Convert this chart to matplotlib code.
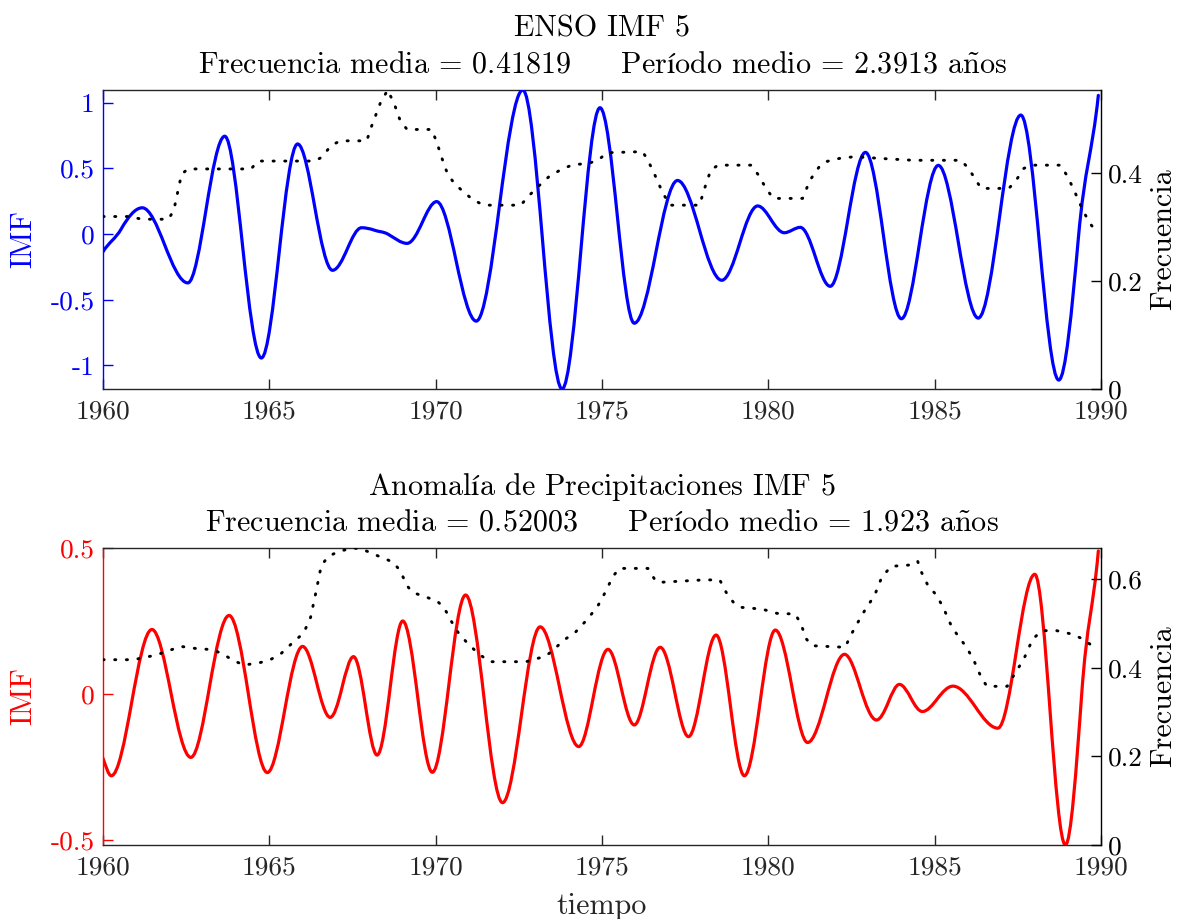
import numpy as np
import matplotlib
matplotlib.use("Agg")
import matplotlib.pyplot as plt
from matplotlib.path import Path
from matplotlib.patches import PathPatch

plt.rcParams['font.family'] = ['cmr10', 'DejaVu Serif']
plt.rcParams['mathtext.fontset'] = 'cm'
plt.rcParams['axes.unicode_minus'] = False
plt.rcParams['axes.formatter.use_mathtext'] = True

# ---------------- data ----------------
# ENSO IMF 5 (key points: extrema and mid-crossings)
enso_t = [1960.00, 1960.55, 1961.18, 1961.85, 1962.55, 1963.10, 1963.66, 1964.20, 1964.76,
          1965.30, 1965.85, 1966.37, 1966.90, 1967.35, 1967.77, 1968.15, 1968.56, 1969.14,
          1969.60, 1970.03, 1970.62, 1971.22, 1971.92, 1972.62, 1973.21, 1973.80, 1974.37,
          1974.94, 1975.46, 1975.97, 1976.62, 1977.27, 1977.93, 1978.60, 1979.14, 1979.68,
          1980.08, 1980.48, 1980.96, 1981.41, 1981.86, 1982.39, 1982.92, 1983.46, 1984.00,
          1984.55, 1985.11, 1985.71, 1986.31, 1986.95, 1987.59, 1988.16, 1988.73, 1989.32,
          1989.92]
enso_imf = [-0.135, 0.04, 0.20, -0.08, -0.372, 0.19, 0.745, -0.10, -0.944,
            -0.13, 0.686, 0.20, -0.276, -0.11, 0.048, 0.03, 0.0, -0.071,
            0.09, 0.247, -0.21, -0.663, 0.22, 1.097, -0.04, -1.18, -0.11,
            0.962, 0.14, -0.679, -0.14, 0.408, 0.03, -0.352, -0.07, 0.214,
            0.11, 0.01, 0.051, -0.17, -0.398, 0.11, 0.622, -0.01, -0.645,
            -0.06, 0.523, -0.06, -0.640, 0.13, 0.906, -0.10, -1.112, -0.03,
            1.056]

# ENSO instantaneous frequency
enso_ft = [1960.00, 1960.76, 1961.18, 1961.97, 1962.13, 1962.36, 1962.55, 1964.45, 1964.66,
           1966.35, 1966.56, 1966.87, 1967.14, 1967.93, 1968.03, 1968.35, 1968.56, 1968.77,
           1968.93, 1969.14, 1969.88, 1970.03, 1970.19, 1970.35, 1970.56, 1970.83, 1971.14,
           1971.46, 1972.56, 1972.78, 1973.09, 1973.41, 1973.83, 1974.15, 1974.57, 1974.88,
           1975.15, 1976.22, 1976.38, 1976.61, 1976.83, 1977.05, 1977.93, 1978.10, 1978.27,
           1978.49, 1979.48, 1979.70, 1979.93, 1980.15, 1981.03, 1981.25, 1981.53, 1981.70,
           1982.14, 1982.58, 1983.36, 1984.35, 1985.79, 1986.02, 1986.24, 1986.40, 1987.23,
           1987.45, 1987.68, 1987.90, 1988.78, 1989.00, 1989.23, 1989.45, 1989.67, 1989.84]
enso_f = [0.319, 0.319, 0.314, 0.314, 0.331, 0.397, 0.407, 0.407, 0.4216,
          0.4216, 0.428, 0.451, 0.459, 0.459, 0.479, 0.531, 0.553, 0.525,
          0.497, 0.480, 0.480, 0.457, 0.4265, 0.399, 0.380, 0.365, 0.349,
          0.340, 0.340, 0.356, 0.375, 0.393, 0.408, 0.415, 0.417, 0.423,
          0.437, 0.439, 0.423, 0.393, 0.362, 0.340, 0.340, 0.374, 0.405,
          0.414, 0.414, 0.396, 0.371, 0.3525, 0.3525, 0.386, 0.411, 0.420,
          0.4265, 0.4296, 0.4265, 0.423, 0.423, 0.408, 0.386, 0.371, 0.371,
          0.386, 0.408, 0.414, 0.414, 0.3926, 0.362, 0.331, 0.306, 0.293]

# Precipitation anomaly IMF 5
prec_t = [1960.00, 1960.25, 1960.86, 1961.47, 1962.05, 1962.64, 1963.21, 1963.79, 1964.37,
          1964.94, 1965.47, 1966.00, 1966.42, 1966.83, 1967.18, 1967.53, 1967.89, 1968.24,
          1968.63, 1969.01, 1969.46, 1969.90, 1970.40, 1970.90, 1971.46, 1972.01, 1972.58,
          1973.14, 1973.72, 1974.30, 1974.74, 1975.18, 1975.58, 1975.97, 1976.36, 1976.75,
          1977.18, 1977.60, 1978.02, 1978.43, 1978.86, 1979.28, 1979.75, 1980.21, 1980.70,
          1981.18, 1981.74, 1982.29, 1982.77, 1983.25, 1983.60, 1983.94, 1984.29, 1984.63,
          1985.09, 1985.55, 1986.23, 1986.90, 1987.46, 1988.01, 1988.47, 1988.93, 1989.42,
          1989.92]
prec_imf = [-0.22, -0.28, -0.03, 0.221, 0.00, -0.217, 0.03, 0.269, 0.00,
            -0.269, -0.05, 0.163, 0.04, -0.080, 0.02, 0.128, -0.04, -0.209,
            0.02, 0.250, -0.01, -0.268, 0.035, 0.339, -0.02, -0.372, -0.07,
            0.230, 0.025, -0.180, -0.01, 0.153, 0.02, -0.106, 0.03, 0.160,
            0.01, -0.146, 0.03, 0.202, -0.04, -0.280, -0.03, 0.219, 0.03,
            -0.166, -0.015, 0.136, 0.02, -0.089, -0.03, 0.033, -0.015, -0.060,
            -0.015, 0.027, -0.045, -0.117, 0.15, 0.410, -0.06, -0.517, 0.0,
            0.49]

# Precipitation instantaneous frequency
prec_ft = [1960.00, 1960.92, 1961.60, 1962.34, 1962.76, 1963.29, 1963.60, 1963.92, 1964.24,
           1964.66, 1964.98, 1965.34, 1965.71, 1966.03, 1966.24, 1966.40, 1966.56, 1966.77,
           1967.08, 1967.50, 1967.77, 1968.24, 1968.72, 1968.93, 1969.14, 1969.30, 1969.72,
           1970.03, 1970.25, 1970.46, 1970.67, 1970.98, 1971.30, 1971.62, 1972.72, 1972.99,
           1973.30, 1973.57, 1973.83, 1974.20, 1974.57, 1974.88, 1975.15, 1975.31, 1975.52,
           1976.38, 1976.61, 1976.72, 1978.04, 1978.54, 1978.76, 1978.99, 1979.21, 1979.82,
           1980.26, 1980.81, 1980.98, 1981.14, 1981.31, 1982.31, 1982.47, 1982.69, 1982.92,
           1983.19, 1983.41, 1983.69, 1984.24, 1984.41, 1984.49, 1984.58, 1984.80, 1985.07,
           1985.30, 1985.52, 1985.74, 1985.96, 1986.18, 1986.40, 1986.57, 1987.18, 1987.34,
           1987.68, 1987.95, 1988.23, 1988.67, 1989.11, 1989.45, 1989.67]
prec_f = [0.418, 0.418, 0.4286, 0.448, 0.4436, 0.4406, 0.431, 0.416, 0.406,
          0.4105, 0.416, 0.431, 0.457, 0.478, 0.5135, 0.570, 0.630, 0.651,
          0.662, 0.670, 0.668, 0.653, 0.638, 0.619, 0.585, 0.570, 0.559,
          0.551, 0.536, 0.506, 0.480, 0.453, 0.431, 0.4135, 0.4135, 0.4195,
          0.4256, 0.442, 0.461, 0.480, 0.510, 0.540, 0.5774, 0.604, 0.624,
          0.624, 0.596, 0.5925, 0.598, 0.598, 0.566, 0.5436, 0.536, 0.532,
          0.5226, 0.521, 0.4985, 0.465, 0.4496, 0.446, 0.472, 0.502, 0.532,
          0.5624, 0.604, 0.6286, 0.6316, 0.634, 0.640, 0.619, 0.585, 0.5624,
          0.5286, 0.491, 0.468, 0.446, 0.416, 0.378, 0.358, 0.358, 0.378,
          0.4195, 0.465, 0.4835, 0.4835, 0.476, 0.465, 0.453]

xticks = [1960, 1965, 1970, 1975, 1980, 1985, 1990]
xticklabels = ['1960', '1965', '1970', '1975', '1980', '1985', '1990']
enso_yticks = [-1, -0.5, 0, 0.5, 1]
enso_yticklabels = ['-1', '-0.5', '0', '0.5', '1']
prec_yticks = [-0.5, 0, 0.5]
prec_yticklabels = ['-0.5', '0', '0.5']
enso_fticks = [0, 0.2, 0.4]
enso_fticklabels = ['0', '0.2', '0.4']
prec_fticks = [0, 0.2, 0.4, 0.6]
prec_fticklabels = ['0', '0.2', '0.4', '0.6']

title_enso = ["ENSO IMF 5",
              r"Frecuencia media = 0.41819     Per$\mathrm{í}$odo medio = 2.3913 a$\mathrm{\tilde{n}}$os"]
title_prec = [r"Anomal$\mathrm{í}$a de Precipitaciones IMF 5",
              r"Frecuencia media = 0.52003     Per$\mathrm{í}$odo medio = 1.923 a$\mathrm{\tilde{n}}$os"]

FS = 19.7     # tick labels
FL = 21.7     # titles and axis labels
GRAY = '#262626'


def smooth_curve(ax, x, y, color, lw):
    """Smooth curve through the given points (flat at turning points), drawn as a Bezier path."""
    x = np.asarray(x, float)
    y = np.asarray(y, float)
    h = np.diff(x)
    d = np.diff(y) / h
    n = len(x)
    m = np.zeros(n)
    m[0] = 1.3 * d[0]
    m[-1] = 1.3 * d[-1]
    for k in range(1, n - 1):
        if d[k - 1] * d[k] <= 0:
            m[k] = 0.0
        else:
            w1 = 2 * h[k] + h[k - 1]
            w2 = h[k] + 2 * h[k - 1]
            hm = (w1 + w2) / (w1 / d[k - 1] + w2 / d[k])
            lim = 3.0 * min(abs(d[k - 1]), abs(d[k]))
            m[k] = np.sign(hm) * min(abs(hm) * 1.55, lim)
    verts = [(x[0], y[0])]
    codes = [Path.MOVETO]
    for k in range(n - 1):
        verts.append((x[k] + h[k] / 3, y[k] + m[k] * h[k] / 3))
        verts.append((x[k + 1] - h[k] / 3, y[k + 1] - m[k + 1] * h[k] / 3))
        verts.append((x[k + 1], y[k + 1]))
        codes += [Path.CURVE4] * 3
    patch = PathPatch(Path(verts, codes), fill=False, edgecolor=color, lw=lw,
                      capstyle='round', joinstyle='round', zorder=3)
    ax.add_patch(patch)


fig = plt.figure(figsize=(11.77, 9.19), dpi=100)
W, H = 1177, 919


def make_panel(box, t, imf, ft, f, color, yticks, yticklabels, fticks, fticklabels, titles):
    ax = fig.add_axes(box)
    axr = ax.twinx()
    smooth_curve(ax, t, imf, color, 2.3)
    axr.plot(ft, f, color='k', lw=2.1, linestyle=(0, (0.4, 3.6)), dash_capstyle='round')
    ax.set_xlim(1960, 1990)
    ax.set_ylim(min(imf), max(max(imf), yticks[-1]))
    axr.set_ylim(0, max(f))
    ax.set_xticks(xticks)
    ax.set_xticklabels(xticklabels, fontsize=FS, color=GRAY)
    ax.set_yticks(yticks)
    ax.set_yticklabels(yticklabels, fontsize=FS, color=color)
    axr.set_yticks(fticks)
    axr.set_yticklabels(fticklabels, fontsize=FS, color='k')
    ax.tick_params(axis='x', direction='in', length=7.5, width=1.0, color=GRAY,
                   top=True, bottom=True, pad=8)
    ax.tick_params(axis='y', direction='in', length=7.5, width=1.0, color=color, pad=6)
    axr.tick_params(axis='y', direction='in', length=7.5, width=1.0, color='k', pad=5)
    for s in ['top', 'bottom']:
        ax.spines[s].set_color(GRAY)
        ax.spines[s].set_linewidth(1.0)
        axr.spines[s].set_visible(False)
    ax.spines['left'].set_color(color)
    ax.spines['left'].set_linewidth(1.0)
    ax.spines['right'].set_visible(False)
    axr.spines['left'].set_visible(False)
    axr.spines['right'].set_color('k')
    axr.spines['right'].set_linewidth(1.0)
    ax.annotate(titles[0], xy=(0.5, 1), xycoords='axes fraction', xytext=(0, 44),
                textcoords='offset points', ha='center', va='center', fontsize=FL, color='k')
    ax.annotate(titles[1], xy=(0.5, 1), xycoords='axes fraction', xytext=(0, 18.5),
                textcoords='offset points', ha='center', va='center', fontsize=FL, color='k')
    return ax, axr


box1 = [103 / W, 1 - 389 / H, 998 / W, 299 / H]
box2 = [103 / W, 1 - 845 / H, 998 / W, 297 / H]
make_panel(box1, enso_t, enso_imf, enso_ft, enso_f, 'blue', enso_yticks, enso_yticklabels,
           enso_fticks, enso_fticklabels, title_enso)
make_panel(box2, prec_t, prec_imf, prec_ft, prec_f, 'red', prec_yticks, prec_yticklabels,
           prec_fticks, prec_fticklabels, title_prec)

fig.text(23 / W, 1 - 239 / H, 'IMF', rotation=90, ha='center', va='center', fontsize=FL, color='blue')
fig.text(23 / W, 1 - 696 / H, 'IMF', rotation=90, ha='center', va='center', fontsize=FL, color='red')
fig.text(1163 / W, 1 - 239 / H, 'Frecuencia', rotation=90, ha='center', va='center', fontsize=FL, color='k')
fig.text(1163 / W, 1 - 696 / H, 'Frecuencia', rotation=90, ha='center', va='center', fontsize=FL, color='k')
fig.text(602 / W, 1 - 906 / H, 'tiempo', ha='center', va='center', fontsize=FL, color=GRAY)

fig.savefig('out.png', dpi=100, facecolor='white')
